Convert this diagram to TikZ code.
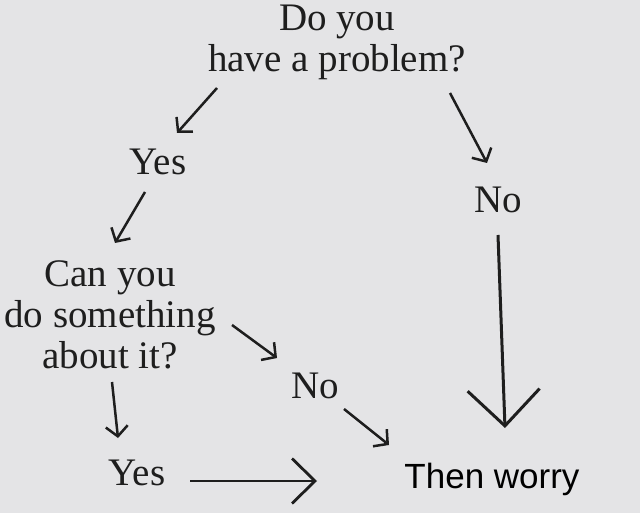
\documentclass[tikz,border=0pt]{standalone}
\usepackage{fontspec}
\setmainfont{Liberation Serif}
\newfontfamily\worryfont{Liberation Sans}
\usepackage{tikz}
\usetikzlibrary{arrows.meta,calc,positioning}
\definecolor{bggray}{RGB}{228,228,230}
\definecolor{inkgray}{RGB}{30,30,30}
\tikzset{
  lbl/.style={font=\fontsize{39}{41}\selectfont, text=inkgray, inner sep=0pt, align=center, anchor=base},
  arr/.style={-{Straight Barb[length=10pt,width=22pt]}, line width=2.5pt, draw=inkgray},
  midarr/.style={-{Straight Barb[length=23pt,width=45pt]}, line width=2.8pt, draw=inkgray},
  bigarr/.style={-{Straight Barb[length=36pt,width=72pt]}, line width=3pt, draw=inkgray},
}

\begin{document}
\begin{tikzpicture}[x=1pt,y=-1pt]
        % Background and picture size
        \fill[bggray] (0,0) rectangle (640,513);
        \useasboundingbox (0,0) rectangle (640,513);
        % Draw the questions and answers (base = last line)
        \node[lbl] (problem) at (337,72) {Do you\\have a problem?};
        \node[lbl] (yesTop) at (158,175) {Yes};
        \node[lbl] (noRight) at (498,213) {No};
        \node[lbl] (canDo) at (110,368) {Can you\\do something\\about it?};
        \node[lbl] (noMid) at (315,398) {No};
        \node[lbl] (yesBottom) at (137,485) {Yes};
        \node[lbl, font=\worryfont\fontsize{35}{40}\selectfont, text=black] (worry) at (492,488) {Then worry};
        % Define the arrow end points
        \foreach \n/\a/\b in {a1s/217/88, a1e/177/133, a2s/145/192, a2e/115/243,
            a3s/232/325, a3e/277/358, a4s/344/409, a4e/389/445,
            a5s/112/382, a5e/118/438, a6s/190/481, a6e/317/481,
            a7s/450/93, a7e/487/163, a8s/498/235, a8e/505/428} {
            \coordinate (\n) at (\a,\b);
          }
        % Draw the small arrows
        \foreach \s/\e in {a1s/a1e, a2s/a2e, a3s/a3e, a4s/a4e, a5s/a5e, a7s/a7e} {
            \draw[arr] (\s) -- (\e);
          }
        % Draw the two big arrows into "Then worry"
        \draw[midarr] (a6s) -- (a6e);
        \draw[bigarr] (a8s) -- (a8e);
      \end{tikzpicture}
\end{document}
